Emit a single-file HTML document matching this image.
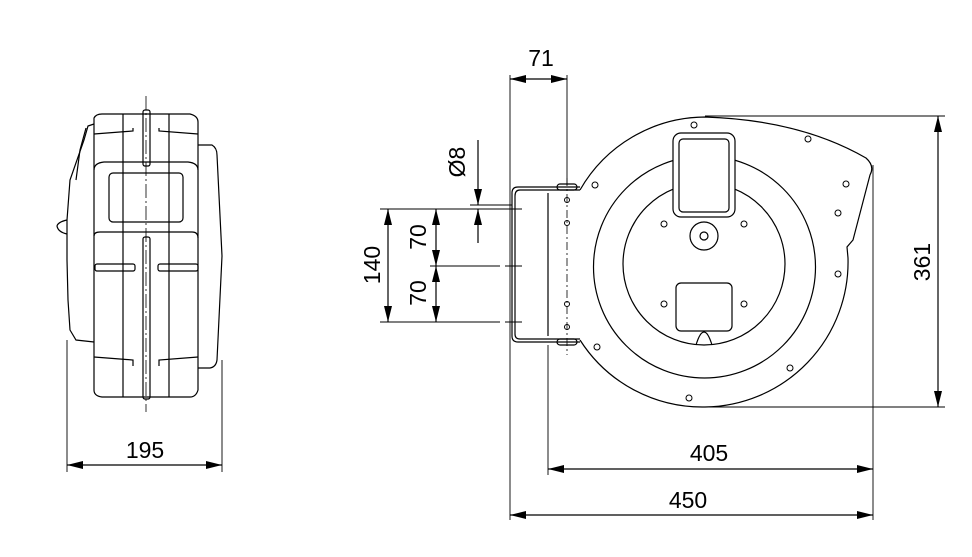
<!DOCTYPE html>
<html><head><meta charset="utf-8"><style>
html,body{margin:0;padding:0;background:#fff;}
svg{display:block;}
text{font-family:"Liberation Sans",Arial,sans-serif;fill:#000;font-size:23px;}
</style></head><body>
<svg width="972" height="557" viewBox="0 0 972 557" xmlns="http://www.w3.org/2000/svg">
<defs>
<marker id="a" viewBox="0 0 16 8" refX="16" refY="4" markerWidth="16" markerHeight="8" orient="auto-start-reverse" markerUnits="userSpaceOnUse"><path d="M0,0 L16,4 L0,8 z" fill="#000"/></marker>
</defs>
<g fill="none" stroke="#000" stroke-width="1.2">
<!-- LEFT VIEW -->
<line x1="146" y1="96" x2="146" y2="412" stroke-dasharray="14,3,2,3" stroke-width="0.8"/>
<path d="M94,118 Q96,114 102,114 L190,114 Q198,116 198,122 L198,390 Q196,397 190,397 L102,397 Q94,396 94,390 Z"/>
<path d="M198,145 L212,145 Q217,148 217,155 L222,256 L217,360 Q216,367 210,368 L198,368"/>
<path d="M94,124 L88,126 L84,140 L70,180 L67,220 L67,260 L68,300 L70,330 L76,340 L94,342"/>
<path d="M86,128 L80,150 L76,180" />
<path d="M67,220 Q58,222 57,226 Q58,232 67,234"/>
<path d="M94,236 Q94,232 100,232 L192,232 Q198,232 198,238" />
<path d="M94,170 Q94,163 104,162 L188,162 Q198,163 198,170"/>
<rect x="109" y="173" width="74" height="49" rx="4"/>
<line x1="123" y1="114" x2="123" y2="397"/>
<line x1="169" y1="114" x2="169" y2="397"/>
<rect x="143" y="110" width="7" height="56" rx="2"/>
<rect x="143" y="237" width="7" height="162" rx="2"/>
<path d="M94,134 L133,131 L133,128"/><path d="M198,134 L159,131 L159,128"/>
<rect x="95" y="264" width="40" height="7" rx="2"/>
<rect x="158" y="264" width="40" height="7" rx="2"/>
<path d="M94,357 L133,360 L133,366"/><path d="M198,357 L159,360 L159,366"/>
<line x1="67" y1="340" x2="67" y2="472" stroke-width="0.9"/>
<line x1="222" y1="360" x2="222" y2="472" stroke-width="0.9"/>
<line x1="67" y1="465" x2="222" y2="465" marker-start="url(#a)" marker-end="url(#a)"/>

<!-- RIGHT VIEW housing -->
<path d="M580,190 A145,145 0 0 1 705,117 Q800,120 866,158 Q875,166 870,175 L853,240 L847,247 L848,258 A145,145 0 0 1 705,407 A145,145 0 0 1 580,340"/>
<circle cx="704.5" cy="267" r="111"/>
<circle cx="704" cy="264" r="81"/>
<rect x="673" y="133" width="62" height="84" rx="8" fill="#fff"/>
<rect x="679" y="139" width="50" height="73" rx="4"/>
<rect x="676" y="283" width="56" height="48" rx="5"/>
<path d="M696,345 Q700,332 704,332 Q708,332 712,345"/>
<circle cx="704" cy="236" r="14"/>
<circle cx="704" cy="236" r="4"/>
<g stroke-width="1">
<circle cx="694" cy="125" r="3"/><circle cx="808" cy="139" r="3"/><circle cx="595" cy="185" r="3"/>
<circle cx="846" cy="184" r="3"/><circle cx="838" cy="213" r="3"/><circle cx="838" cy="274" r="3"/>
<circle cx="664" cy="224" r="3"/><circle cx="744" cy="224" r="3"/>
<circle cx="664" cy="304" r="3"/><circle cx="744" cy="304" r="3"/>
<circle cx="597" cy="347" r="3"/><circle cx="790" cy="368" r="3"/><circle cx="689" cy="398" r="3"/>
<circle cx="567" cy="200" r="2.5"/><circle cx="567" cy="223" r="2.5"/>
<circle cx="567" cy="304" r="2.5"/><circle cx="567" cy="327" r="2.5"/>
</g>
<!-- bracket -->
<path d="M580,187 L518,187 Q512,187 512,193 L512,336 Q512,342 518,342 L580,342"/>
<path d="M580,190 L520,190 Q515,190 515,196 L515,334 Q515,339 520,339 L580,339"/>
<path d="M548,193 L548,336"/>
<rect x="557" y="184" width="20" height="6" rx="3"/>
<rect x="557" y="339" width="20" height="6" rx="3"/>
<line x1="567" y1="178" x2="567" y2="355" stroke-dasharray="8,3,2,3" stroke-width="0.8"/>

<!-- dimensions right -->
<line x1="510" y1="75" x2="510" y2="520" stroke-width="0.9"/>
<line x1="567" y1="75" x2="567" y2="185" stroke-width="0.9"/>
<line x1="510" y1="79" x2="567" y2="79" marker-start="url(#a)" marker-end="url(#a)"/>
<line x1="548" y1="345" x2="548" y2="475" stroke-width="0.9"/>
<line x1="873" y1="165" x2="873" y2="520" stroke-width="0.9"/>
<line x1="548" y1="469" x2="873" y2="469" marker-start="url(#a)" marker-end="url(#a)"/>
<line x1="510" y1="515" x2="873" y2="515" marker-start="url(#a)" marker-end="url(#a)"/>
<line x1="705" y1="116" x2="945" y2="116" stroke-width="0.9"/>
<line x1="705" y1="407" x2="945" y2="407" stroke-width="0.9"/>
<line x1="938" y1="116" x2="938" y2="407" marker-start="url(#a)" marker-end="url(#a)"/>

<line x1="380" y1="209" x2="522" y2="209" stroke-width="0.9"/>
<line x1="430" y1="266" x2="500" y2="266" stroke-width="0.9"/>
<line x1="505" y1="266" x2="522" y2="266" stroke-width="0.9"/>
<line x1="380" y1="322" x2="500" y2="322" stroke-width="0.9"/>
<line x1="505" y1="322" x2="522" y2="322" stroke-width="0.9"/>
<line x1="470" y1="205" x2="512" y2="205" stroke-width="0.9"/>
<line x1="388" y1="209" x2="388" y2="322" marker-start="url(#a)" marker-end="url(#a)"/>
<line x1="436" y1="209" x2="436" y2="266" marker-start="url(#a)" marker-end="url(#a)"/>
<line x1="436" y1="266" x2="436" y2="322" marker-start="url(#a)" marker-end="url(#a)"/>
<line x1="478" y1="140" x2="478" y2="205" marker-end="url(#a)"/>
<line x1="478" y1="243" x2="478" y2="209" marker-end="url(#a)"/>
</g>
<text x="145" y="458" text-anchor="middle">195</text>
<text x="541" y="66" text-anchor="middle">71</text>
<text x="709" y="461" text-anchor="middle">405</text>
<text x="688" y="508" text-anchor="middle">450</text>
<text transform="translate(930,262) rotate(-90)" text-anchor="middle">361</text>
<text transform="translate(380,265) rotate(-90)" text-anchor="middle">140</text>
<text transform="translate(426,237) rotate(-90)" text-anchor="middle">70</text>
<text transform="translate(426,293) rotate(-90)" text-anchor="middle">70</text>
<text transform="translate(465,162) rotate(-90)" text-anchor="middle">Ø8</text>
</svg>
</body></html>
